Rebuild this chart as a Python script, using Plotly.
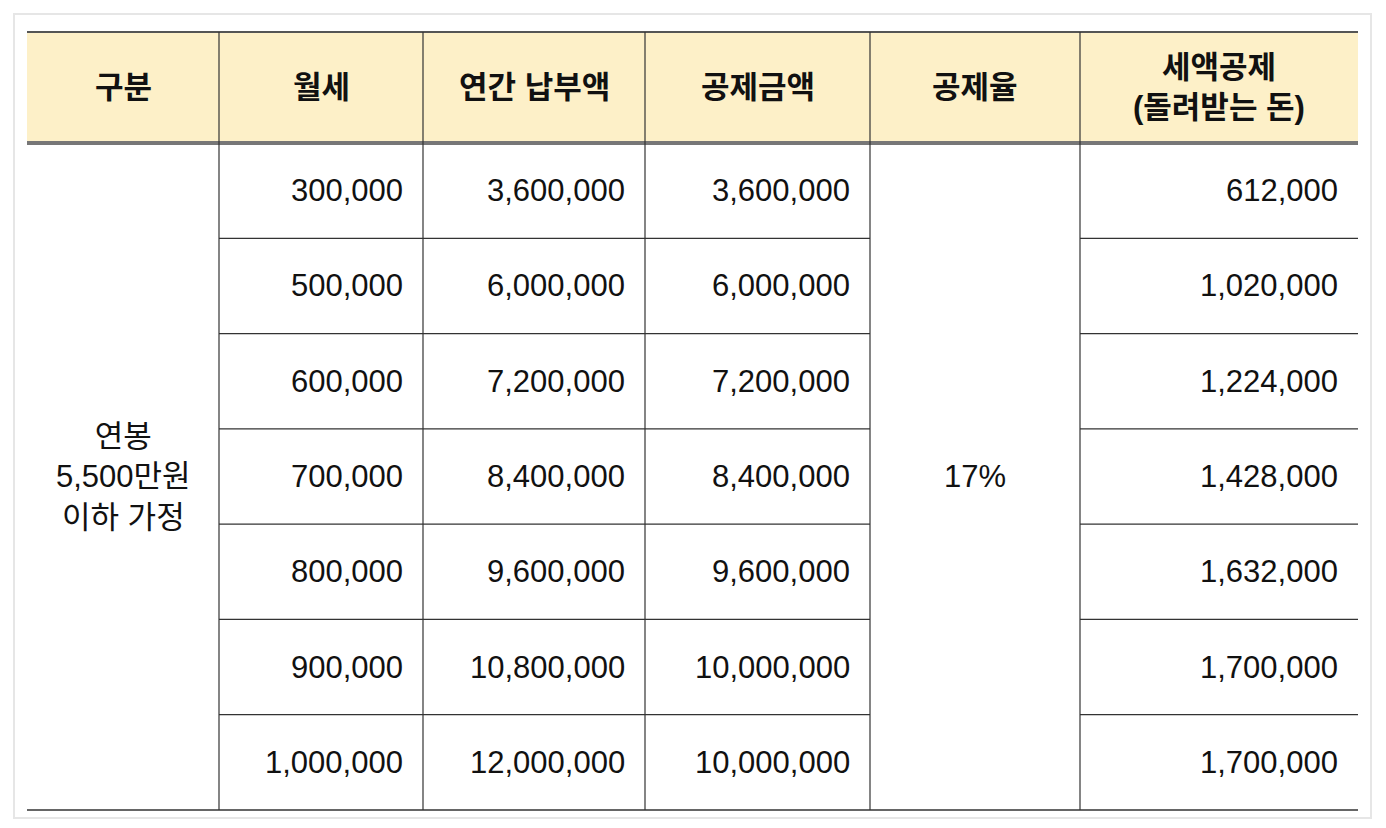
import plotly.graph_objects as go

headers = ["구분", "월세", "연간 납부액", "공제금액", "공제율", "세액공제<br>(돌려받는 돈)"]
group_label = "연봉<br>5,500만원<br>이하 가정"
rent = ["300,000", "500,000", "600,000", "700,000", "800,000", "900,000", "1,000,000"]
annual = ["3,600,000", "6,000,000", "7,200,000", "8,400,000", "9,600,000", "10,800,000", "12,000,000"]
deduct = ["3,600,000", "6,000,000", "7,200,000", "8,400,000", "9,600,000", "10,000,000", "10,000,000"]
rate = "17%"
credit = ["612,000", "1,020,000", "1,224,000", "1,428,000", "1,632,000", "1,700,000", "1,700,000"]

OFF = 8  # page body margin offset
colx = [c - OFF for c in [27, 219, 423, 645, 870, 1080, 1358]]
top, head_bot, bottom = 32 - OFF, 143 - OFF, 810 - OFF
n = len(rent)
rh = (bottom - head_bot) / n
rows_y = [head_bot + i * rh for i in range(n + 1)]

FONT = "Liberation Sans, Noto Sans CJK KR"
fs = 31
shapes, ann = [], []
line_c = "#333333"

shapes.append(dict(type="rect", x0=14 - OFF, x1=1371 - OFF, y0=14 - OFF, y1=818 - OFF,
                   line=dict(color="#e6e6e6", width=2), fillcolor="white", layer="below"))
shapes.append(dict(type="rect", x0=colx[0], x1=colx[-1], y0=top, y1=head_bot, line=dict(width=0),
                   fillcolor="#FDF0C8", layer="below"))
shapes.append(dict(type="line", x0=colx[0], x1=colx[-1], y0=top, y1=top, line=dict(color="#555555", width=2)))
shapes.append(dict(type="line", x0=colx[0], x1=colx[-1], y0=head_bot, y1=head_bot, line=dict(color="#777777", width=4)))
shapes.append(dict(type="line", x0=colx[0], x1=colx[-1], y0=bottom, y1=bottom, line=dict(color=line_c, width=1.5)))
for x in colx[1:-1]:
    shapes.append(dict(type="line", x0=x, x1=x, y0=top, y1=bottom, line=dict(color=line_c, width=1.2)))
for y in rows_y[1:-1]:
    shapes.append(dict(type="line", x0=colx[1], x1=colx[4], y0=y, y1=y, line=dict(color=line_c, width=1.2)))
    shapes.append(dict(type="line", x0=colx[5], x1=colx[6], y0=y, y1=y, line=dict(color=line_c, width=1.2)))

for i, h in enumerate(headers):
    ann.append(dict(x=(colx[i] + colx[i + 1]) / 2, y=(top + head_bot) / 2, text="<b>" + h + "</b>",
                    showarrow=False, font=dict(size=fs, color="#111"), xanchor="center", yanchor="middle"))
ann.append(dict(x=(colx[0] + colx[1]) / 2, y=(head_bot + bottom) / 2, text=group_label, showarrow=False,
                font=dict(size=fs, color="#111"), align="center"))
ann.append(dict(x=(colx[4] + colx[5]) / 2, y=(head_bot + bottom) / 2, text=rate, showarrow=False,
                font=dict(size=fs, color="#111")))
for j, col in enumerate([rent, annual, deduct]):
    for i, v in enumerate(col):
        ann.append(dict(x=colx[j + 2] - 18, y=(rows_y[i] + rows_y[i + 1]) / 2, text=v, showarrow=False,
                        xanchor="right", font=dict(size=fs, color="#111")))
for i, v in enumerate(credit):
    ann.append(dict(x=colx[6] - 18, y=(rows_y[i] + rows_y[i + 1]) / 2, text=v, showarrow=False,
                    xanchor="right", font=dict(size=fs, color="#111")))

fig = go.Figure()
fig.update_layout(width=1386, height=828, margin=dict(l=0, r=0, t=0, b=0),
                  paper_bgcolor="white", plot_bgcolor="white",
                  font=dict(family=FONT),
                  xaxis=dict(range=[0, 1386], visible=False, fixedrange=True),
                  yaxis=dict(range=[828, 0], visible=False, fixedrange=True),
                  shapes=shapes, annotations=ann, showlegend=False)
fig.write_html("out.html")
